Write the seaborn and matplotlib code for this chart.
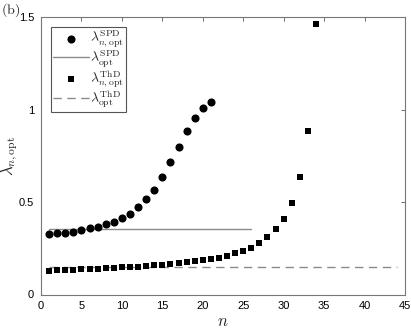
import matplotlib
matplotlib.use("Agg")
import matplotlib.pyplot as plt
import seaborn as sns
import pandas as pd
import numpy as np

# Data
n_spd = list(range(1, 22))
lam_spd = [0.325, 0.331, 0.334, 0.338, 0.349, 0.358, 0.367, 0.379, 0.392, 0.414,
           0.437, 0.471, 0.515, 0.567, 0.635, 0.715, 0.799, 0.882, 0.952, 1.006, 1.041]
n_thd = list(range(1, 35))
lam_thd = [0.129, 0.131, 0.133, 0.134, 0.136, 0.138, 0.140, 0.142, 0.144, 0.146,
           0.149, 0.151, 0.154, 0.157, 0.160, 0.165, 0.170, 0.176, 0.179, 0.185,
           0.192, 0.199, 0.210, 0.223, 0.237, 0.253, 0.278, 0.309, 0.352, 0.406,
           0.494, 0.634, 0.885, 1.464]
opt_spd = 0.352
opt_spd_range = [1, 26]
opt_thd = 0.150
opt_thd_range = [1, 44]

x_ticks = [0, 5, 10, 15, 20, 25, 30, 35, 40, 45]
y_ticks = [0, 0.5, 1, 1.5]
y_ticklabels = ["0", "0.5", "1", "1.5"]

sns.set_theme(style="white")
plt.rcParams['mathtext.fontset'] = 'cm'
plt.rcParams['font.family'] = ['Liberation Sans', 'DejaVu Sans']

fig = plt.figure(figsize=(4.11, 3.29), dpi=100)
ax = fig.add_axes([41/411, 1 - 294.5/329, (405 - 41)/411, (294.5 - 17)/329])

df_spd = pd.DataFrame({"n": n_spd, "lam": lam_spd})
df_thd = pd.DataFrame({"n": n_thd, "lam": lam_thd})
df_ospd = pd.DataFrame({"n": opt_spd_range, "lam": [opt_spd, opt_spd]})
df_othd = pd.DataFrame({"n": opt_thd_range, "lam": [opt_thd, opt_thd]})

sns.scatterplot(data=df_spd, x="n", y="lam", ax=ax, marker="o", s=34, color="black",
                edgecolor="black", linewidth=0, label=r"$\lambda^{\mathrm{SPD}}_{n,\mathrm{opt}}$", zorder=3)
sns.lineplot(data=df_ospd, x="n", y="lam", ax=ax, color="#8a8a8a", linewidth=1.0,
             label=r"$\lambda^{\mathrm{SPD}}_{\mathrm{opt}}$")
sns.scatterplot(data=df_thd, x="n", y="lam", ax=ax, marker="s", s=22, color="black",
                edgecolor="black", linewidth=0, label=r"$\lambda^{\mathrm{ThD}}_{n,\mathrm{opt}}$", zorder=3)
sns.lineplot(data=df_othd, x="n", y="lam", ax=ax, color="#8a8a8a", linewidth=1.0,
             linestyle=(0, (6, 4)), label=r"$\lambda^{\mathrm{ThD}}_{\mathrm{opt}}$")

ax.set_xlim(0, 45)
ax.set_ylim(0, 1.5)
ax.set_xticks(x_ticks)
ax.set_xticklabels([str(t) for t in x_ticks])
ax.set_yticks(y_ticks)
ax.set_yticklabels(y_ticklabels)
ax.tick_params(direction="in", length=3, width=0.6, top=True, right=True,
               labelsize=8, colors="#555555", labelcolor="black", pad=5)
for s in ax.spines.values():
    s.set_color("#777777")
    s.set_linewidth(0.8)

ax.set_xlabel(r"$n$", fontsize=12, labelpad=2)
ax.set_ylabel(r"$\lambda_{n,\mathrm{opt}}$", fontsize=12)
ax.yaxis.set_label_coords(-0.058, 0.5)

leg = ax.legend(loc="upper left", fontsize=10, frameon=True, fancybox=False,
                edgecolor="#555555", framealpha=1, handlelength=2.6, handletextpad=0.1,
                labelspacing=-0.1, borderpad=0.15, borderaxespad=0.7, markerscale=1.0)
leg.get_frame().set_linewidth(0.8)

fig.text(0.002, 0.997, r"$\mathrm{(b)}$", fontsize=10, va="top", ha="left")

fig.savefig("out.png", dpi=100)
